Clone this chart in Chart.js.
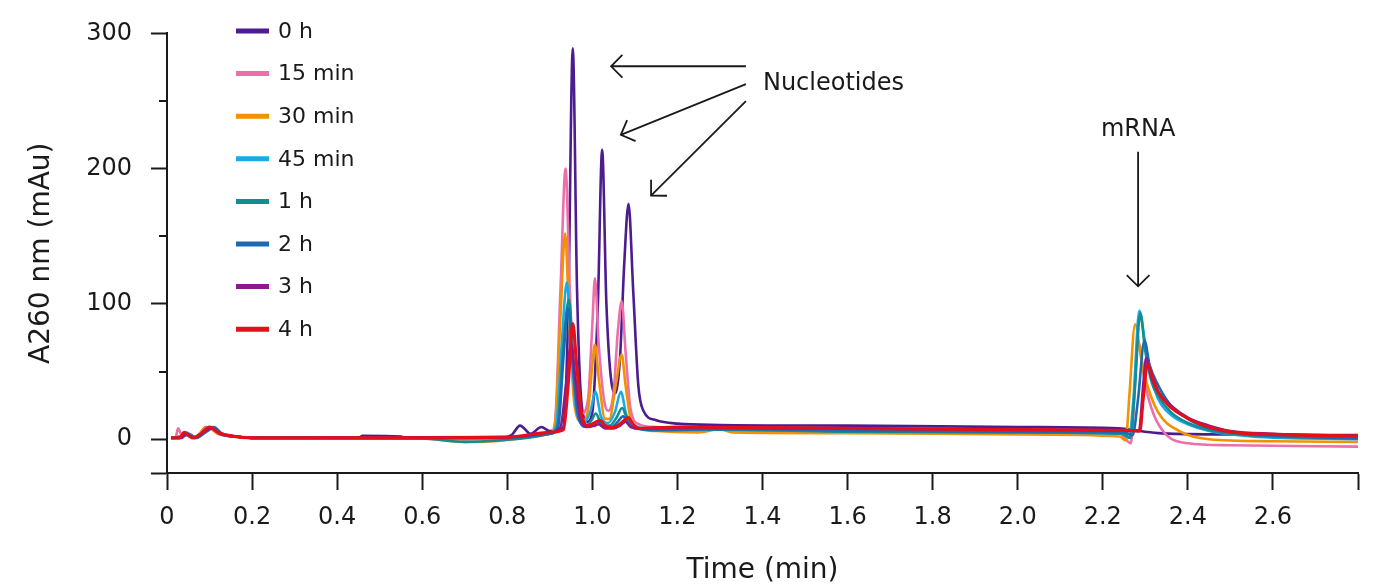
<!DOCTYPE html>
<html lang="en">
<head>
  <meta charset="UTF-8">
  <title>A260 chromatogram</title>
  <script src="https://cdn.jsdelivr.net/npm/chart.js"></script>
  <style>
    html, body { margin: 0; padding: 0; background: #FFFFFF; }
    #wrap { width: 1373px; height: 585px; }
  </style>
</head>
<body>
  <div id="wrap"><canvas id="chart" width="1373" height="585"></canvas></div>

  <script>
    // series labels and colours
    const labels = ['0 h', '15 min', '30 min', '45 min', '1 h', '2 h', '3 h', '4 h'];
    const colors = ['#4B1D8F', '#EC6FAA', '#F39200', '#1AAAE6', '#138D90', '#1B6AB3', '#8B1A8D', '#E3101B'];

    // time (min) and absorbance (mAu)
    const t0h  = [0.01,0.03,0.045,0.065,0.09,0.105,0.125,0.16,0.2,0.45,0.46,0.55,0.56,0.78,0.81,0.83,0.855,0.88,0.9,0.93,0.943,0.954,0.964,0.975,0.988,1.0,1.013,1.023,1.033,1.047,1.055,1.065,1.075,1.085,1.096,1.108,1.12,1.15,1.2,1.3,1.6,2.0,2.236,2.33,2.5,2.8];
    const a0h  = [1,2,4,1,7,8,4,2,1,1,2.5,2,1,1,3,10,4,9,6,8,90,289,110,25,13,20,100,214,100,38,34,60,130,174,110,40,21,14,11.5,10.5,10,9,8,4.5,3.5,3];

    const t15m = [0.01,0.02,0.026,0.035,0.05,0.07,0.09,0.102,0.12,0.16,0.2,0.5,0.7,0.8,0.9,0.912,0.925,0.937,0.947,0.958,0.975,0.99,1.0,1.006,1.015,1.028,1.037,1.05,1.06,1.069,1.078,1.09,1.11,1.15,1.3,1.6,2.0,2.24,2.266,2.272,2.283,2.3,2.32,2.35,2.4,2.5,2.8];
    const a15m = [1,1,8,3,4,1,9,8,4,2,1,1,0,1,4,12,110,200,110,35,19,30,85,119,70,28,21,35,80,102,65,22,11,9,7,6,5,4,-3,20,72,40,18,3,-3,-4.5,-5.5];

    const t30m = [0.01,0.03,0.045,0.065,0.09,0.102,0.12,0.16,0.2,0.6,0.7,0.77,0.85,0.9,0.912,0.925,0.936,0.946,0.958,0.975,0.99,1.0,1.006,1.015,1.03,1.04,1.055,1.069,1.078,1.09,1.11,1.15,1.25,1.3,1.33,1.6,2.0,2.24,2.254,2.262,2.276,2.29,2.3,2.33,2.38,2.45,2.6,2.8];
    const a30m = [1,2,4,1,8,8,4,2,1,0.5,-2,-1.5,1.5,4,10,90,152,85,25,13,22,55,70,45,15,15,40,62.5,40,15,8,6,5,7.5,5,4.5,3.5,2,-1,30,85,60,45,20,6,0,-1.5,-2];

    const t45m = [0.01,0.03,0.045,0.065,0.09,0.108,0.125,0.16,0.2,0.5,0.8,0.9,0.915,0.928,0.94,0.95,0.962,0.978,0.995,1.007,1.02,1.037,1.053,1.067,1.08,1.1,1.15,1.3,1.6,2.0,2.245,2.262,2.272,2.286,2.3,2.315,2.33,2.36,2.4,2.45,2.55,2.8];
    const a45m = [1,1.5,5,1,7,9,4,2,1,1,1,4,10,70,116,70,22,12,20,35,17,12,20,35,18,10,7,7,6,5,4,1,30,95,70,45,30,18,11,6,2,0];

    const t1h  = [0.01,0.035,0.05,0.07,0.095,0.108,0.125,0.16,0.2,0.6,0.7,0.78,0.85,0.9,0.918,0.932,0.945,0.955,0.967,0.985,0.998,1.008,1.022,1.04,1.057,1.07,1.083,1.1,1.15,1.3,1.6,2.0,2.245,2.265,2.275,2.288,2.3,2.315,2.33,2.36,2.4,2.5,2.8];
    const a1h  = [1,1.5,4,1,7,8,4,2,1,0.5,-2,-1,1,4,10,70,103,60,18,10,14,19,11,10,16,23,14,9,6.5,7,5.5,5,4,1,35,93,65,42,32,20,12,4,0.5];

    const t2h  = [0.01,0.03,0.045,0.065,0.095,0.11,0.13,0.16,0.2,0.8,0.9,0.92,0.932,0.943,0.954,0.966,0.985,1.0,1.01,1.025,1.045,1.06,1.072,1.085,1.1,1.15,1.3,1.6,2.0,2.25,2.27,2.283,2.298,2.31,2.33,2.36,2.4,2.45,2.5,2.6,2.8];
    const a2h  = [1,1,3,1,6,9,4,2,1,1,4,10,60,97,55,18,9,11,13,9,9,13,17,11,8,7,7.5,6.5,5.5,5,3,30,73,55,40,25,15,8,5,2.5,0.5];

    const t3h  = [0.01,0.035,0.045,0.065,0.09,0.105,0.125,0.16,0.2,0.8,0.9,0.925,0.938,0.95,0.96,0.972,0.99,1.005,1.015,1.03,1.05,1.065,1.078,1.09,1.11,1.2,1.6,2.0,2.26,2.285,2.295,2.302,2.315,2.33,2.36,2.4,2.45,2.5,2.6,2.8];
    const a3h  = [1,1,4,1,6,8,4,2,1,1.5,5,9,40,70,45,15,9,10,11,8,8,10,13,9,8,8.5,8,7,6.5,6,40,60,45,35,25,16,10,6,4,2.5];

    const t4h  = [0.01,0.03,0.04,0.06,0.08,0.1,0.12,0.15,0.2,0.5,0.8,0.9,0.932,0.943,0.954,0.963,0.975,0.99,1.005,1.018,1.03,1.042,1.06,1.072,1.084,1.096,1.11,1.2,1.6,2.0,2.25,2.287,2.295,2.305,2.318,2.33,2.355,2.38,2.43,2.5,2.6,2.8];
    const a4h  = [1,1,5,1,4,9,5,2.5,1,1,1.5,5,7,40,85.5,55,18,10,12,14,10,8.5,10,13,16,11,8,9,8,7,6.5,6,30,55.6,45,35,25,19,11,5.4,3.5,2.4];

    const times = [t0h, t15m, t30m, t45m, t1h, t2h, t3h, t4h];
    const values = [a0h, a15m, a30m, a45m, a1h, a2h, a3h, a4h];

    // axis ticks
    const xTicks = [0, 0.2, 0.4, 0.6, 0.8, 1.0, 1.2, 1.4, 1.6, 1.8, 2.0, 2.2, 2.4, 2.6];
    const yMajor = [0, 100, 200, 300];
    const yMinor = [50, 150, 250];

    const ink = '#1A1A1A';
    const fontFamily = '"DejaVu Sans", sans-serif';

    const datasets = labels.map((lab, i) => ({
      label: lab,
      data: times[i].map((t, j) => ({ x: t, y: values[i][j] })),
      borderColor: colors[i],
      borderWidth: i === 7 ? 3.2 : 2.6,
      pointRadius: 0,
      fill: false,
      cubicInterpolationMode: 'monotone',
      order: labels.length - 1 - i
    }));

    // short minor ticks on the y axis
    const minorTicks = {
      id: 'minorTicks',
      afterDraw(chart) {
        const y = chart.scales.y;
        const ctx = chart.ctx;
        ctx.save();
        ctx.strokeStyle = ink;
        ctx.lineWidth = 2;
        yMinor.forEach(v => {
          const py = Math.round(y.getPixelForValue(v));
          ctx.beginPath();
          ctx.moveTo(chart.chartArea.left - 8, py);
          ctx.lineTo(chart.chartArea.left, py);
          ctx.stroke();
        });
        ctx.restore();
      }
    };

    // legend in a column inside the plot
    const sideLegend = {
      id: 'sideLegend',
      afterDraw(chart) {
        const ctx = chart.ctx;
        ctx.save();
        ctx.font = '22px ' + fontFamily;
        ctx.textBaseline = 'middle';
        ctx.textAlign = 'left';
        labels.forEach((lab, i) => {
          const y = 31 + i * 42.6;
          ctx.strokeStyle = colors[i];
          ctx.lineWidth = 5;
          ctx.beginPath();
          ctx.moveTo(236, y);
          ctx.lineTo(269, y);
          ctx.stroke();
          ctx.fillStyle = ink;
          ctx.fillText(lab, 278, y + 1);
        });
        ctx.restore();
      }
    };

    // arrows and peak labels
    const arrowFrom = [[1.361, 275.7], [1.361, 262.5], [1.361, 250], [2.283, 212.5]];
    const arrowTo = [[1.044, 275.7], [1.067, 225], [1.138, 180], [2.283, 113]];

    const notes = {
      id: 'notes',
      afterDraw(chart) {
        const xs = chart.scales.x, ys = chart.scales.y;
        const ctx = chart.ctx;
        ctx.save();
        ctx.strokeStyle = ink;
        ctx.lineWidth = 1.8;
        arrowFrom.forEach((f, i) => {
          const x1 = xs.getPixelForValue(f[0]), y1 = ys.getPixelForValue(f[1]);
          const x2 = xs.getPixelForValue(arrowTo[i][0]), y2 = ys.getPixelForValue(arrowTo[i][1]);
          const ang = Math.atan2(y2 - y1, x2 - x1);
          const head = 16, spread = Math.PI / 4;
          ctx.beginPath();
          ctx.moveTo(x1, y1);
          ctx.lineTo(x2, y2);
          ctx.moveTo(x2 - head * Math.cos(ang - spread), y2 - head * Math.sin(ang - spread));
          ctx.lineTo(x2, y2);
          ctx.lineTo(x2 - head * Math.cos(ang + spread), y2 - head * Math.sin(ang + spread));
          ctx.stroke();
        });
        ctx.fillStyle = ink;
        ctx.font = '24px ' + fontFamily;
        ctx.textBaseline = 'middle';
        ctx.textAlign = 'left';
        ctx.fillText('Nucleotides', xs.getPixelForValue(1.401), ys.getPixelForValue(262.5));
        ctx.textAlign = 'center';
        ctx.fillText('mRNA', xs.getPixelForValue(2.283), ys.getPixelForValue(229));
        ctx.restore();
      }
    };

    new Chart(document.getElementById('chart'), {
      type: 'line',
      data: { datasets: datasets },
      options: {
        responsive: false,
        animation: false,
        layout: { padding: { top: 31, right: 15, bottom: 0, left: 0 } },
        plugins: {
          legend: { display: false },
          tooltip: { enabled: false }
        },
        scales: {
          x: {
            type: 'linear',
            min: 0,
            max: 2.8,
            afterBuildTicks: s => { s.ticks = xTicks.concat([2.8]).map(v => ({ value: v })); },
            afterFit: s => { s.height = 112; },
            border: { display: true, color: ink, width: 2 },
            grid: { drawOnChartArea: false, drawTicks: true, tickLength: 17, tickWidth: 2, tickColor: ink },
            ticks: {
              color: ink,
              padding: 13,
              maxRotation: 0,
              autoSkip: false,
              font: { family: fontFamily, size: 24 },
              callback: v => (v > 2.7 ? '' : (v === 0 ? '0' : v.toFixed(1)))
            },
            title: {
              display: true,
              text: 'Time (min)',
              color: ink,
              font: { family: fontFamily, size: 28, lineHeight: 1.0 },
              padding: { top: 0, bottom: 0 }
            }
          },
          y: {
            min: -25,
            max: 300,
            afterBuildTicks: s => { s.ticks = [-25].concat(yMajor).map(v => ({ value: v })); },
            afterFit: s => { s.width = 167; },
            border: { display: true, color: ink, width: 2 },
            grid: { drawOnChartArea: false, drawTicks: true, tickLength: 16, tickWidth: 2, tickColor: ink },
            ticks: {
              color: ink,
              padding: 19,
              font: { family: fontFamily, size: 24 },
              callback: v => (v < 0 ? '' : String(v))
            },
            title: {
              display: true,
              text: 'A260 nm (mAu)',
              color: ink,
              font: { family: fontFamily, size: 28 },
              padding: { top: 25, bottom: 0 }
            }
          }
        }
      },
      plugins: [minorTicks, sideLegend, notes]
    });
  </script>
</body>
</html>
